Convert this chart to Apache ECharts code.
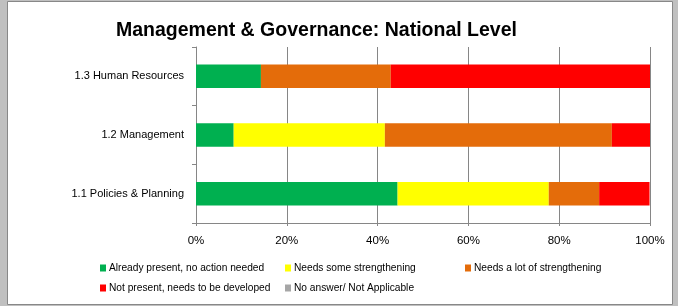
<!DOCTYPE html>
<html>
<head>
<meta charset="utf-8">
<script src="https://cdn.jsdelivr.net/npm/echarts@6/dist/echarts.min.js"></script>
<style>
  html, body { margin: 0; padding: 0; background: #c0c0c0; }
  #chart { width: 678px; height: 306px; }
</style>
</head>
<body>
<div id="chart"></div>
<script>
  // categories, bottom to top
  var categories = ['1.1 Policies & Planning', '1.2 Management', '1.3 Human Resources'];
  var seriesNames = [
    'Already present, no action needed',
    'Needs some strengthening',
    'Needs a lot of strengthening',
    'Not present, needs to be developed',
    'No answer/ Not Applicable'
  ];
  var seriesColors = ['#00b050', '#ffff00', '#e46c0a', '#ff0000', '#a6a6a6'];
  // percentages per category
  var alreadyPresent = [44.4, 8.3, 14.3];
  var someStrength = [33.3, 33.3, 0];
  var lotStrength = [11.1, 50.0, 28.6];
  var notPresent = [11.1, 8.4, 57.1];
  var noAnswer = [0, 0, 0];
  var tickLabels = ['0%', '20%', '40%', '60%', '80%', '100%'];

  var values = [alreadyPresent, someStrength, lotStrength, notPresent, noAnswer];
  var font = '"Liberation Sans", Arial, sans-serif';

  // legend slots (two rows, three columns)
  var legendPos = [[100, 263], [285, 263], [465, 263], [100, 283], [285, 283]];
  var legends = seriesNames.map(function (name, i) {
    return {
      data: [name],
      left: legendPos[i][0],
      top: legendPos[i][1],
      itemWidth: 6,
      itemHeight: 7,
      padding: 0,
      icon: 'rect',
      selectedMode: false,
      textStyle: { fontFamily: font, fontSize: 10.2, color: '#000', padding: [0, 0, 0, -2] }
    };
  });

  var chart = echarts.init(document.getElementById('chart'));
  chart.setOption({
    backgroundColor: '#c0c0c0',
    animation: false,
    graphic: [{
      type: 'rect',
      z: -10,
      shape: { x: 7.5, y: 1.5, width: 665, height: 303 },
      style: { fill: '#fff', stroke: '#888', lineWidth: 1 }
    }],
    title: {
      text: 'Management & Governance: National Level',
      left: 111,
      top: 16,
      textStyle: { fontFamily: font, fontWeight: 'bold', fontSize: 19.5, color: '#000' }
    },
    legend: legends,
    grid: { left: 196, right: 28, top: 47, bottom: 83 },
    xAxis: {
      type: 'value',
      min: 0,
      max: 100,
      interval: 20,
      axisLine: { show: true, lineStyle: { color: '#868686' } },
      axisTick: { show: true, length: 3, lineStyle: { color: '#868686' } },
      splitLine: { show: true, lineStyle: { color: '#868686' } },
      axisLabel: {
        margin: 12,
        fontFamily: font,
        fontSize: 11.5,
        color: '#000',
        formatter: function (v) { return tickLabels[Math.round(v / 20)]; }
      }
    },
    yAxis: {
      type: 'category',
      data: categories,
      axisLine: { show: true, lineStyle: { color: '#868686' } },
      axisTick: { show: true, length: 4, lineStyle: { color: '#868686' } },
      axisLabel: { margin: 12, fontFamily: font, fontSize: 11, color: '#000' }
    },
    series: seriesNames.map(function (name, i) {
      return {
        name: name,
        type: 'bar',
        stack: 'total',
        barWidth: '40%',
        itemStyle: { color: seriesColors[i] },
        data: values[i]
      };
    })
  });
</script>
</body>
</html>
